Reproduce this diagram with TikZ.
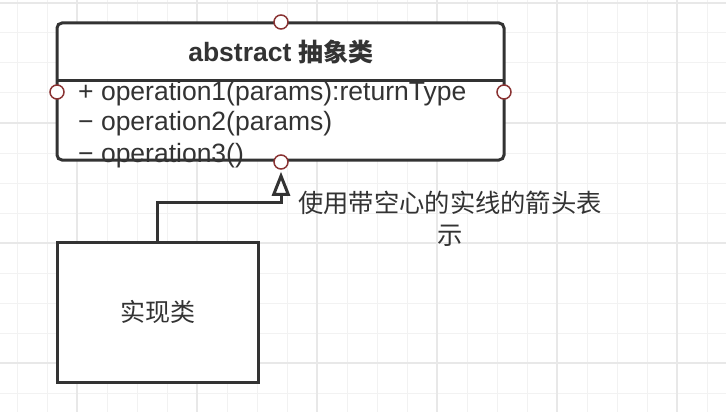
\documentclass[tikz,border=0pt]{standalone}
\usepackage{fontspec}
\setmainfont{Liberation Sans}[Scale=1.06]
\newfontfamily\cjk{Noto Sans CJK SC}
\usetikzlibrary{arrows.meta}
\definecolor{txt}{HTML}{333333}
\definecolor{edge}{HTML}{333333}
\definecolor{portred}{HTML}{8A3333}
\definecolor{gridminor}{HTML}{F2F2F2}
\definecolor{gridmajor}{HTML}{E8E8E8}
\tikzset{
  gminor/.style={draw=gridminor, line width=1pt},
  gmajor/.style={draw=gridmajor, line width=1.4pt},
  classbox/.style={draw=edge, fill=white, line width=3pt, inner sep=0pt},
  port/.style={circle, draw=portred, fill=white, line width=1.5pt, minimum size=14pt, inner sep=0pt},
  optext/.style={anchor=base west, inner sep=0pt, text=txt, font=\fontsize{25}{31}\selectfont},
  conn/.style={draw=edge, line width=3pt, -{Triangle[open, length=24pt, width=18pt, line width=3pt]}},
}
\begin{document}
\begin{tikzpicture}[x=1pt, y=-1pt]
\useasboundingbox (0,0) rectangle (726,412);
\fill[white] (0,0) rectangle (726,412);
% grid
\foreach \x in {17,47,...,707} \draw[gminor] (\x,0) -- (\x,412);
\foreach \y in {3,33,...,393} \draw[gminor] (0,\y) -- (726,\y);
\foreach \x in {77,197,...,677} \draw[gmajor] (\x,0) -- (\x,412);
\foreach \y in {3,123,243,363} \draw[gmajor] (0,\y) -- (726,\y);
% abstract class
\node[classbox, rounded corners=5pt, minimum width=447pt, minimum height=137pt] (abs) at (280.5,91.5) {};
\coordinate (sepL) at (57,81);
\coordinate (sepR) at (504,81);
\draw[edge, line width=3pt] (sepL) -- (sepR);
\node[anchor=base, inner sep=0pt, text=txt, font=\fontsize{25}{31}\selectfont\bfseries] (title) at (281,62) {abstract {\cjk 抽象类}};
\node[optext] (op1) at (78,100) {+ operation1(params):returnType};
\node[optext] (op2) at (78,131) {\textminus{} operation2(params)};
\node[optext] (op3) at (78,162) {\textminus{} operation3()};
% implementation class
\node[classbox, minimum width=201pt, minimum height=140pt, text=txt, font=\cjk\fontsize{25}{31}\selectfont] (impl) at (157.5,312) {实现类};
% connector
\node[port] (pb) at (281,162) {};
\coordinate (bend) at (281,202);
\draw[conn, shorten >=2pt] (impl.north) |- (bend) -- (pb.south);
% label
\node[align=center, inner sep=0pt, text=txt, font=\cjk\fontsize{25.3}{32}\selectfont] (lbl) at (450,219) {使用带空心的实线的箭头表\\示};
% ports
\node[port] (pt) at (281,22) {};
\node[port] (pl) at (57,92) {};
\node[port] (pr) at (504,92) {};
\end{tikzpicture}
\end{document}
